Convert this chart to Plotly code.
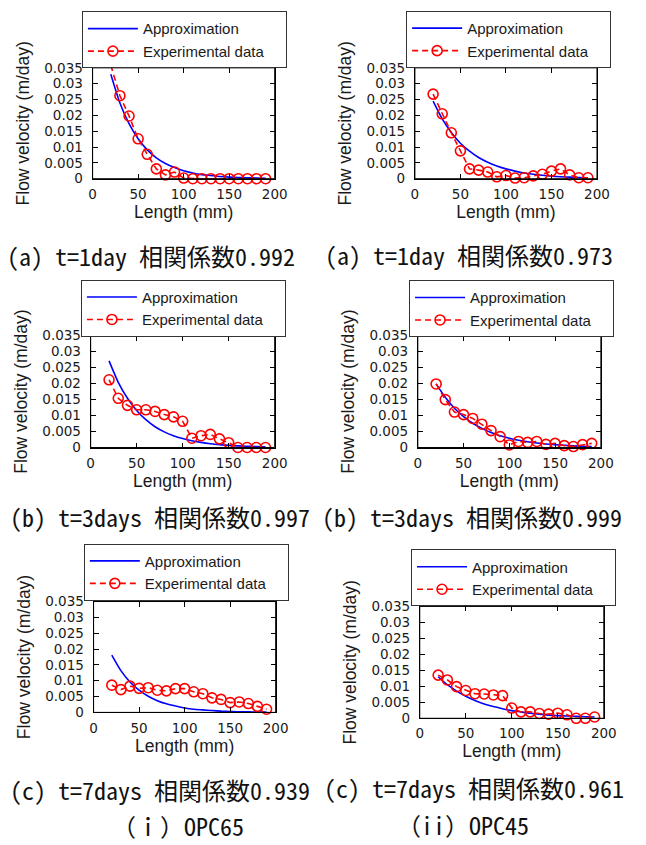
import plotly.graph_objects as go

# ---------------- data ----------------
length_mm = [20, 30, 40, 50, 60, 70, 80, 90, 100, 110, 120, 130, 140, 150, 160, 170, 180, 190]

# OPC65
exp_opc65_1d = [0.0358, 0.0262, 0.0198, 0.0126, 0.0077, 0.0031, 0.0012, 0.0021, 0.0002, 0, 0, 0, 0, 0, 0, 0, 0, 0]
apx_opc65_1d = [0.0330, 0.0239, 0.0174, 0.0126, 0.0091, 0.0066, 0.0048, 0.0035, 0.0025, 0.0018, 0.0013,
                0.0010, 0.0007, 0.0005, 0.0004, 0.0003, 0.0002, 0.0001]
exp_opc65_3d = [0.0212, 0.0154, 0.0132, 0.0118, 0.0118, 0.0113, 0.0103, 0.0096, 0.0082, 0.0029, 0.0037,
                0.0041, 0.0027, 0.0015, 0.0000, 0.0000, 0.0000, 0.0000]
apx_opc65_3d = [0.0271, 0.0204, 0.0154, 0.0116, 0.0087, 0.0065, 0.0049, 0.0037, 0.0028, 0.0021, 0.0016,
                0.0012, 0.0009, 0.0007, 0.0005, 0.0004, 0.0003, 0.0002]
exp_opc65_7d = [0.0086, 0.0072, 0.0083, 0.0076, 0.0078, 0.0070, 0.0068, 0.0075, 0.0075, 0.0065, 0.0059,
                0.0046, 0.0041, 0.0031, 0.0033, 0.0028, 0.0019, 0.0010]
apx_opc65_7d = [0.0181, 0.0132, 0.0096, 0.0070, 0.0051, 0.0037, 0.0027, 0.0020, 0.0014, 0.0010, 0.0008,
                0.0006, 0.0004, 0.0003, 0.0002, 0.0002, 0.0001, 0.0001]

# OPC45
exp_opc45_1d = [0.0267, 0.0205, 0.0145, 0.0088, 0.0031, 0.0027, 0.0021, 0.0006, 0.0010, 0.0002, 0.0003,
                0.0009, 0.0014, 0.0024, 0.0031, 0.0012, 0.0003, 0.0003]
apx_opc45_1d = [0.0245, 0.0189, 0.0146, 0.0112, 0.0087, 0.0067, 0.0052, 0.0040, 0.0031, 0.0024, 0.0018,
                0.0014, 0.0011, 0.0008, 0.0006, 0.0005, 0.0004, 0.0003]
exp_opc45_3d = [0.0199, 0.0150, 0.0111, 0.0103, 0.0091, 0.0073, 0.0053, 0.0034, 0.0008, 0.0019, 0.0016,
                0.0019, 0.0010, 0.0013, 0.0006, 0.0003, 0.0009, 0.0013]
apx_opc45_3d = [0.0199, 0.0157, 0.0123, 0.0097, 0.0076, 0.0060, 0.0047, 0.0037, 0.0029, 0.0023, 0.0018,
                0.0014, 0.0011, 0.0009, 0.0007, 0.0005, 0.0004, 0.0003]
exp_opc45_7d = [0.0135, 0.0120, 0.0099, 0.0087, 0.0077, 0.0076, 0.0073, 0.0071, 0.0032, 0.0020, 0.0020,
                0.0015, 0.0013, 0.0016, 0.0011, 0.0000, 0.0000, 0.0004]
apx_opc45_7d = [0.0130, 0.0105, 0.0085, 0.0069, 0.0056, 0.0045, 0.0037, 0.0030, 0.0024, 0.0020, 0.0016,
                0.0013, 0.0010, 0.0008, 0.0007, 0.0006, 0.0005, 0.0004]

x_ticks = [0, 50, 100, 150, 200]
y_ticks = [0, 0.005, 0.01, 0.015, 0.02, 0.025, 0.03, 0.035]
y_ticktext = ["0", "0.005", "0.01", "0.015", "0.02", "0.025", "0.03", "0.035"]

captions = [
    "(a) t=1day 相関係数0.992",
    "(a) t=1day 相関係数0.973",
    "(b) t=3days 相関係数0.997",
    "(b) t=3days 相関係数0.999",
    "(c) t=7days 相関係数0.939",
    "(c) t=7days 相関係数0.961",
]
group_labels = ["（ｉ）OPC65", "（ii）OPC45"]

series_names = ["Approximation", "Experimental data"]
x_title = "Length (mm)"
y_title = "Flow velocity (m/day)"

# ---------------- layout geometry (pixels) ----------------
W, H = 646, 845
panels = [
    # (exp, approx, box left, right, top, bottom, legend left, legend centre-y, caption cx, caption cy)
    (exp_opc65_1d, apx_opc65_1d, 91, 278, 61, 174, 80, 32.5, 151, 252),
    (exp_opc45_1d, apx_opc45_1d, 422, 609, 61, 174, 413, 32, 478, 251),
    (exp_opc65_3d, apx_opc65_3d, 89, 278, 334, 448, 79, 306, 160, 518),
    (exp_opc45_3d, apx_opc45_3d, 425, 613, 334, 448, 416, 306.5, 481, 518),
    (exp_opc65_7d, apx_opc65_7d, 92, 279, 605, 718, 82, 575, 160, 797),
    (exp_opc45_7d, apx_opc45_7d, 427, 616, 610, 724, 418, 581, 483, 795),
]
group_pos = [(179, 833), (471, 832)]

Y_MAX = 0.035
INK = "#1a1a1a"
TICK_FONT = dict(family="DejaVu Sans", size=13.5, color=INK)
TITLE_FONT = dict(family="Liberation Sans, Arial", size=17.5, color=INK)
LEG_FONT = dict(family="Liberation Sans, Arial", size=15, color=INK)
CAP_FONT = dict(family="Noto Sans Mono CJK JP, Noto Sans CJK JP", size=24, color="#111111")
LEG_PAD = "\u00a0" * 4   # right padding inside the legend box

fig = go.Figure()
layout = dict(
    width=W, height=H,
    margin=dict(l=0, r=0, t=0, b=0),
    paper_bgcolor="white", plot_bgcolor="white",
    annotations=[], shapes=[],
    showlegend=True,
)

for i, (exp, apx, bl, br, bt, bb, ll, lcy, cx, cy) in enumerate(panels):
    n = i + 1
    xa = "x" if n == 1 else f"x{n}"
    ya = "y" if n == 1 else f"y{n}"
    leg = "legend" if n == 1 else f"legend{n}"

    fig.add_trace(go.Scatter(
        x=length_mm, y=apx, xaxis=xa, yaxis=ya, legend=leg,
        name=series_names[0], mode="lines",
        line=dict(color="#0000ff", width=1.6, shape="spline", smoothing=0.6),
    ))
    fig.add_trace(go.Scatter(
        x=length_mm, y=exp, xaxis=xa, yaxis=ya, legend=leg,
        name=series_names[1] + LEG_PAD, mode="lines+markers", cliponaxis=False,
        line=dict(color="#ff0000", width=1.6, dash="6px,4px"),
        marker=dict(symbol="circle-open", size=10, color="#ff0000",
                    line=dict(width=1.6, color="#ff0000"),
                    opacity=[1 if v <= Y_MAX else 0 for v in exp]),
    ))

    axis_common = dict(
        showline=True, linecolor="black", linewidth=1, mirror="ticks",
        ticks="inside", ticklen=5, tickcolor="black", tickwidth=1,
        showgrid=False, zeroline=False, tickfont=TICK_FONT,
    )
    layout["xaxis" if n == 1 else f"xaxis{n}"] = dict(
        axis_common, domain=[bl / W, br / W], range=[0, 200],
        tickvals=x_ticks, anchor=ya,
        title=dict(text=x_title, standoff=4, font=TITLE_FONT), ticklabelstandoff=3,
    )
    layout["yaxis" if n == 1 else f"yaxis{n}"] = dict(
        axis_common, domain=[1 - bb / H, 1 - bt / H], range=[0, Y_MAX],
        tickvals=y_ticks, ticktext=y_ticktext, anchor=xa,
        title=dict(text=y_title, standoff=10, font=TITLE_FONT), ticklabelstandoff=6,
    )
    layout[leg] = dict(
        x=ll / W, y=1 - lcy / H, xanchor="left", yanchor="middle",
        bordercolor="#333333", borderwidth=1, bgcolor="white",
        font=LEG_FONT, itemwidth=50, tracegroupgap=0,
    )
    # plot frame (gnuplot-style closed box)
    layout["shapes"].append(dict(
        type="rect", xref=f"{xa} domain", yref=f"{ya} domain",
        x0=0, x1=1, y0=0, y1=1, line=dict(color="black", width=1),
        fillcolor="rgba(0,0,0,0)", layer="above",
    ))
    layout["annotations"].append(dict(
        text=captions[i], x=cx / W, y=1 - cy / H, xref="paper", yref="paper",
        xanchor="center", yanchor="middle", showarrow=False, font=CAP_FONT,
    ))

for (gx, gy), lab in zip(group_pos, group_labels):
    layout["annotations"].append(dict(
        text=lab, x=gx / W, y=1 - gy / H, xref="paper", yref="paper",
        xanchor="center", yanchor="middle", showarrow=False, font=CAP_FONT,
    ))

fig.update_layout(**layout)
fig.write_html("out.html")
